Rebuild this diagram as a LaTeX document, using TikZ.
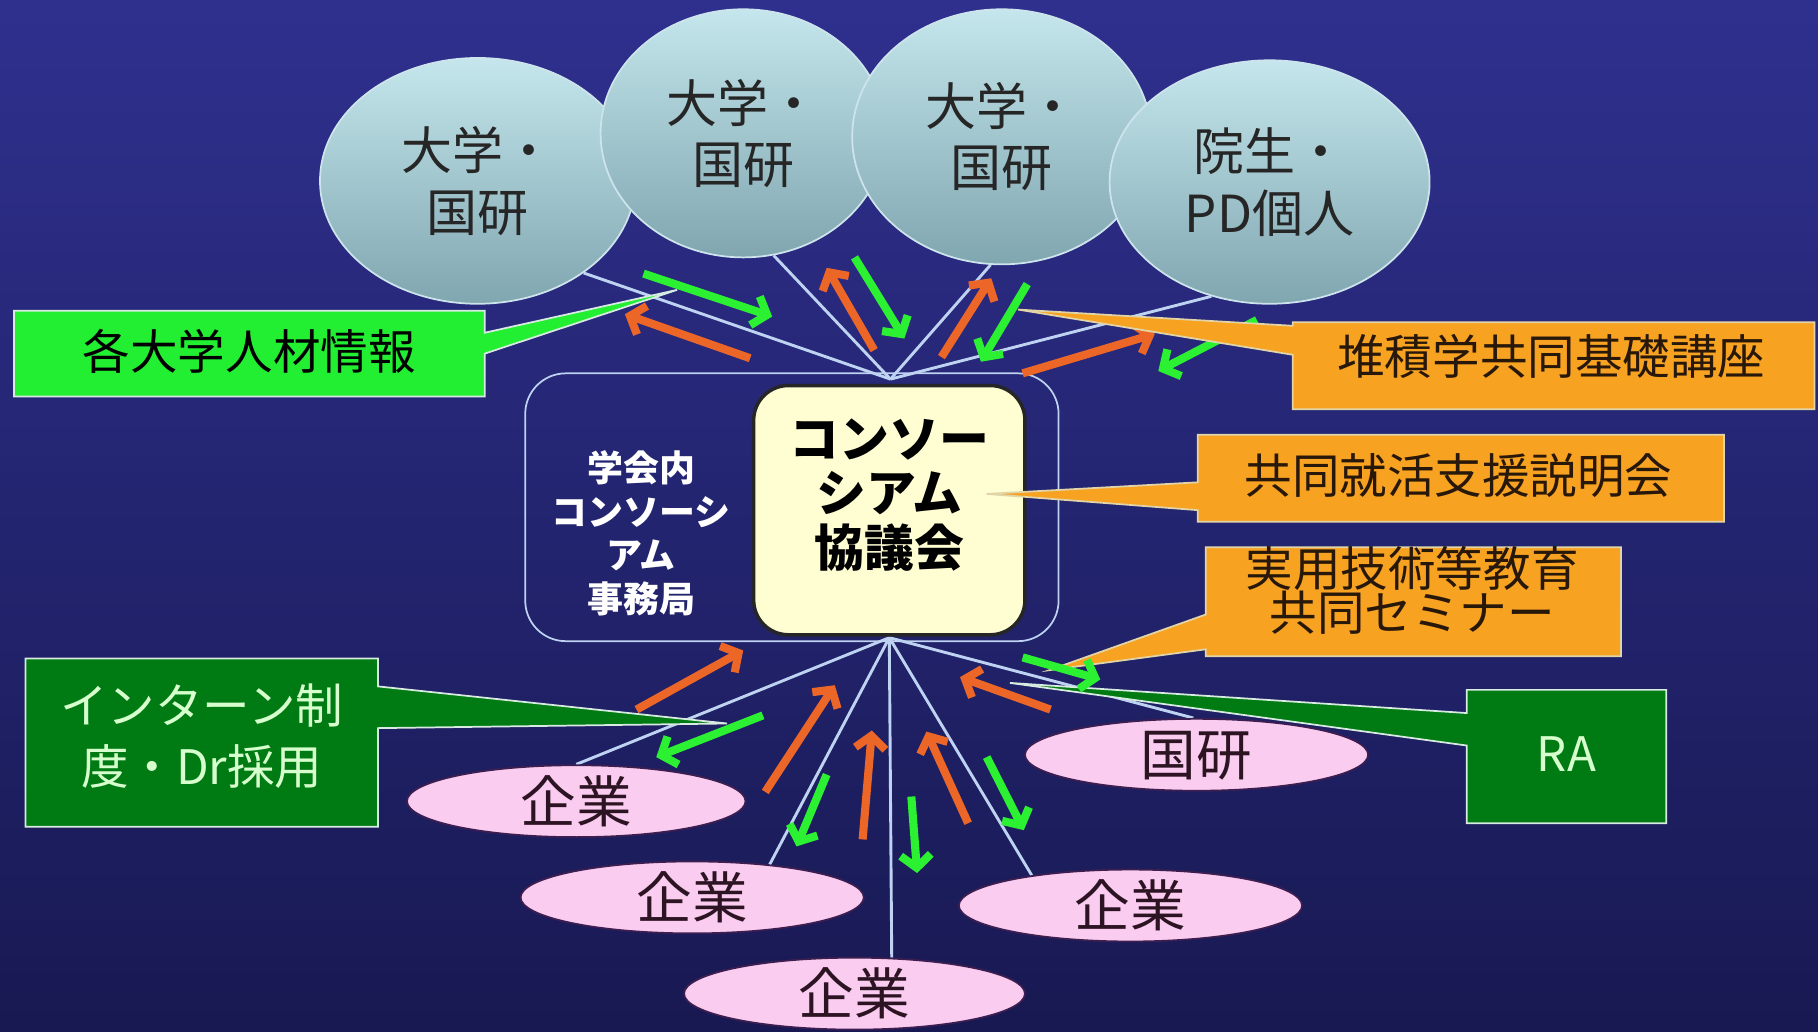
\documentclass[tikz,border=0pt]{standalone}
\usepackage{fontspec}
\newfontfamily\jp{Noto Sans CJK JP}
\usetikzlibrary{shapes.geometric,arrows.meta}
\pgfdeclarelayer{bg}
\pgfdeclarelayer{lines}
\pgfsetlayers{bg,lines,main}

\definecolor{bgtop}{RGB}{47,48,142}
\definecolor{bgmid}{RGB}{38,39,122}
\definecolor{bgbot}{RGB}{24,25,82}
\definecolor{elltop}{RGB}{196,230,236}
\definecolor{ellbot}{RGB}{128,166,176}
\definecolor{ellline}{RGB}{205,228,236}
\definecolor{pinkfill}{RGB}{250,204,240}
\definecolor{pinkline}{RGB}{60,30,80}
\definecolor{pinktext}{RGB}{45,20,35}
\definecolor{spokecol}{RGB}{190,210,242}
\definecolor{cbfill}{RGB}{255,253,210}
\definecolor{arrorange}{RGB}{236,102,40}
\definecolor{arrgreen}{RGB}{44,240,50}
\definecolor{brightgreen}{RGB}{34,238,50}
\definecolor{darkgreen}{RGB}{0,122,18}
\definecolor{orangebox}{RGB}{248,162,34}
\definecolor{calloutline}{RGB}{215,235,225}
\definecolor{lighttext}{RGB}{215,255,205}
\definecolor{boxtext}{RGB}{40,24,10}

\tikzset{
  topell/.style={ellipse, draw=ellline, line width=1.5pt, top color=elltop, bottom color=ellbot,
    inner sep=0pt, align=center, text=black!85, font=\jp\fontsize{44}{53}\selectfont},
  pinkell/.style={ellipse, draw=pinkline, line width=1.5pt, fill=pinkfill, inner sep=0pt,
    text=pinktext, text height=36pt, text depth=0pt, font=\jp\fontsize{48}{52}\selectfont},
  spokeline/.style={draw=spokecol, line width=2.5pt},
  oarr/.style={draw=arrorange, line width=7pt, -{Straight Barb[length=11pt,width=26pt]}},
  garr/.style={draw=arrgreen, line width=7pt, -{Straight Barb[length=11pt,width=26pt]}},
  gcall/.style={fill=brightgreen, draw=calloutline, line width=1.5pt},
  dcall/.style={fill=darkgreen, draw=calloutline, line width=1.5pt},
  ocall/.style={fill=orangebox, draw=calloutline!70!orangebox, line width=1.5pt},
  calltext/.style={font=\jp\fontsize{41}{38}\selectfont, align=center},
}

\begin{document}
\begin{tikzpicture}[x=1pt,y=-1pt]
\begin{pgfonlayer}{bg}
\shade[top color=bgtop, middle color=bgmid, bottom color=bgbot] (0,0) rectangle (1568,890);
\end{pgfonlayer}
\useasboundingbox (0,0) rectangle (1568,890);

% secretariat frame
\node[draw=spokecol, rounded corners=35pt, minimum width=460pt, minimum height=231pt, line width=1.5pt] (SEC) at (683,437.5) {};
\node[font=\jp\bfseries\fontsize{31}{37.5}\selectfont, text=white, align=center] (SECt) at (553,460) {学会内\\コンソーシ\\アム\\事務局};

% central box
\node[rectangle, rounded corners=30pt, fill=cbfill, draw=black!85, line width=3pt, minimum width=234pt, minimum height=215pt] (CB) at (767,440) {};
\node[font=\jp\bfseries\fontsize{43}{47}\selectfont, align=center, text=black] (CBt) at (767,427) {コンソー\\シアム\\協議会};
\coordinate (hubT) at (768,327);
\coordinate (hubB) at (767,550);

% top ellipses
\node[topell, minimum width=272pt, minimum height=212pt] (E1) at (412,156) {大学・\\国研};
\node[topell, minimum width=246pt, minimum height=214pt] (E2) at (641,115) {大学・\\国研};
\node[topell, minimum width=258pt, minimum height=220pt] (E3) at (864,118) {大学・\\国研};
\node[topell, minimum width=276pt, minimum height=210pt] (E4) at (1095,157) {院生・\\PD個人};

% pink ellipses
\node[pinkell, minimum width=292pt, minimum height=62pt] (K1) at (497,691) {企業};
\node[pinkell, minimum width=296pt, minimum height=62pt] (K2) at (597,774) {企業};
\node[pinkell, minimum width=294pt, minimum height=62pt] (K3) at (737,857) {企業};
\node[pinkell, minimum width=296pt, minimum height=62pt] (K4) at (975,781) {企業};
\node[pinkell, minimum width=296pt, minimum height=62pt] (KK) at (1032,651) {国研};

% spokes
\begin{pgfonlayer}{lines}
\draw[spokeline] (hubT) -- (E1.-41);
\draw[spokeline] (hubT) -- (E2.-76);
\draw[spokeline] (hubT) -- (E3.-95);
\draw[spokeline] (hubT) -- (E4.-117);
\draw[spokeline] (hubB) -- (K1.north);
\draw[spokeline] (hubB) -- (K2.23);
\draw[spokeline] (hubB) -- (K3.44);
\draw[spokeline] (hubB) -- (K4.163);
\draw[spokeline] (hubB) -- (KK.95);
\end{pgfonlayer}

% callouts drawn below arrows
\draw[gcall] (12,268) -- (418,268) -- (418,287) -- (584,250) -- (418,305) -- (418,342) -- (12,342) -- cycle;
\node[calltext, text=black] (C1) at (215,303) {各大学人材情報};
\draw[ocall] (1040,472) -- (1398,472) -- (1398,566) -- (1040,566) -- (1040,560) -- (905,578) -- (1040,530) -- cycle;
\node[calltext, text=boxtext] (C4) at (1218,509) {実用技術等教育\\共同セミナー};

% arrows
\draw[garr] (555,236) -- (666,273);
\draw[oarr] (647,309) -- (539,271);
\draw[oarr] (754,302) -- (713,231);
\draw[garr] (737,222) -- (780,292);
\draw[oarr] (812,308) -- (855,240);
\draw[garr] (886,245) -- (846,312);
\draw[oarr] (882,322) -- (996,288);
\draw[garr] (1084,276) -- (999,320);
\draw[oarr] (549,612) -- (641,561);
\draw[garr] (658,617) -- (566,653);
\draw[oarr] (660,683) -- (720,591);
\draw[garr] (713,668) -- (687,730);
\draw[oarr] (744,724) -- (752,630);
\draw[garr] (786,687) -- (791,753);
\draw[oarr] (835,710) -- (799,631);
\draw[garr] (851,653) -- (883,716);
\draw[oarr] (906,612) -- (828,584);

% callouts on top
\draw[ocall] (1115,278) -- (1565,278) -- (1565,353) -- (1115,353) -- (1115,306) -- (878,267) -- (1115,281) -- cycle;
\node[calltext, text=boxtext] (C2) at (1338,307) {堆積学共同基礎講座};
\draw[ocall] (1033,375) -- (1487,375) -- (1487,450) -- (1033,450) -- (1033,440) -- (851,426) -- (1033,416) -- cycle;
\node[calltext, text=boxtext] (C3) at (1258,410) {共同就活支援説明会};
\draw[dcall] (22,568) -- (326,568) -- (326,592) -- (627,624) -- (326,628) -- (326,713) -- (22,713) -- cycle;
\node[calltext, text=lighttext, font=\jp\fontsize{41}{53}\selectfont] (C5) at (174,635) {インターン制\\度・Dr採用};
\draw[dcall] (1265,595) -- (1437,595) -- (1437,710) -- (1265,710) -- (1265,643) -- (871,589) -- (1265,615) -- cycle;
\node[calltext, text=lighttext] (C6) at (1351,650) {RA};
\draw[garr] (882,567) -- (949,586);
\end{tikzpicture}
\end{document}
